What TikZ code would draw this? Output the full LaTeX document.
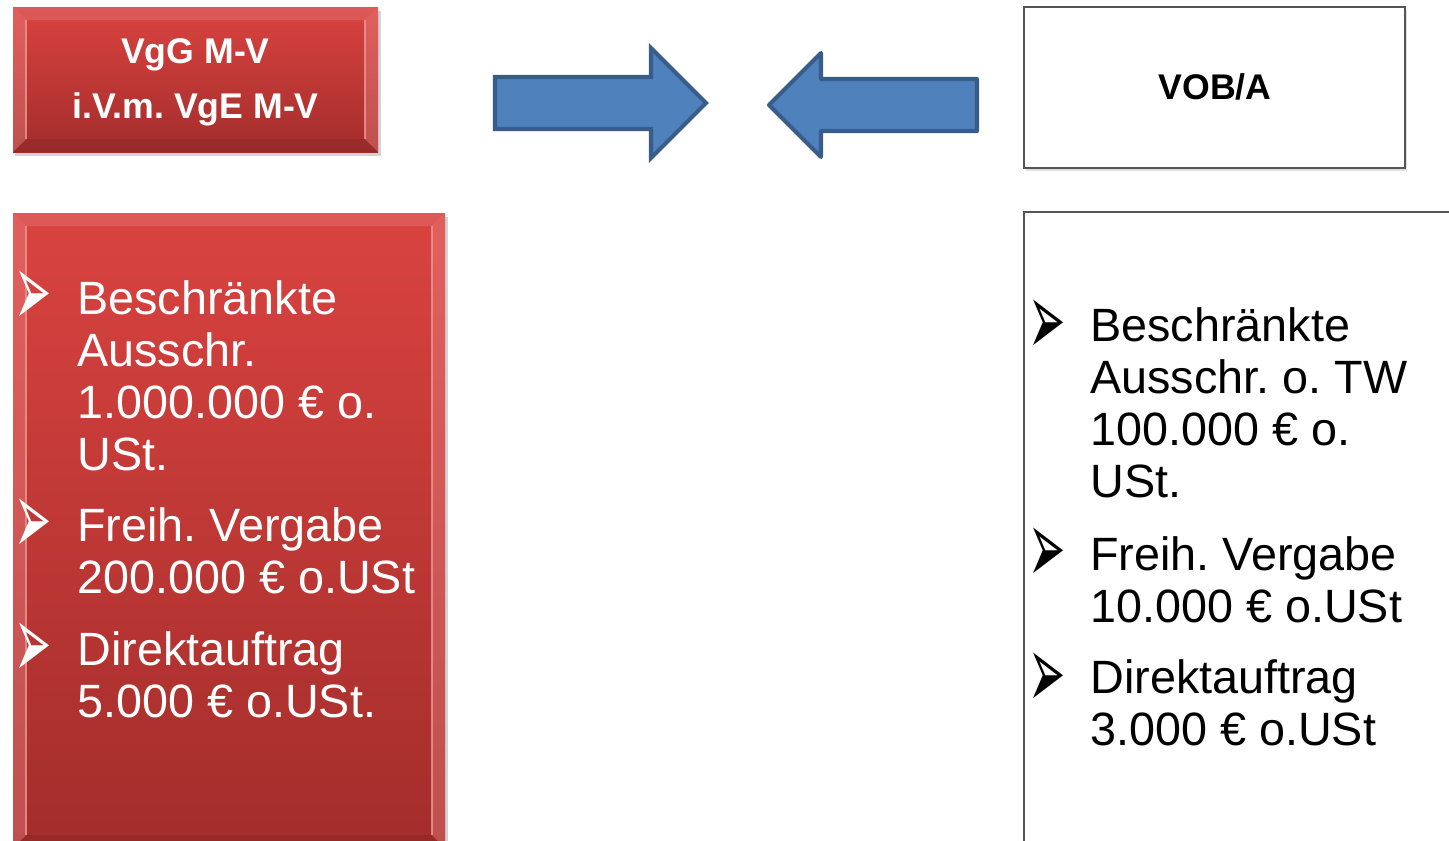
\documentclass[tikz,border=0pt]{standalone}
\usepackage{fontspec}
\usepackage{graphicx}
\setmainfont{Liberation Sans}
\newfontfamily\dejavu{DejaVu Sans}
\usetikzlibrary{shadows}

\definecolor{redtop}{RGB}{217,67,64}
\definecolor{redbot}{RGB}{163,45,43}
\definecolor{arrowfill}{HTML}{4F81BD}
\definecolor{arrowline}{HTML}{385D8A}
\definecolor{framegray}{RGB}{85,85,85}
\definecolor{bevelpink}{RGB}{240,150,148}

\tikzset{
	redbox/.style={top color=redtop, bottom color=redbot,
		drop shadow={shadow xshift=0.05cm, shadow yshift=-0.08cm, opacity=0.35}},
	whitebox/.style={fill=white, draw=framegray, line width=1.3pt,
		drop shadow={shadow xshift=0.04cm, shadow yshift=-0.06cm, opacity=0.25}},
	bevellight/.style={bevelpink, opacity=0.35},
	blockarrow/.style={fill=arrowfill, draw=arrowline, line width=2.3pt},
	title/.style={font=\frenchspacing\fontsize{20.3}{31.2}\selectfont\bfseries, align=center, anchor=base, inner sep=0pt},
	item/.style={font=\frenchspacing\fontsize{26.6}{29.5}\selectfont, align=left, anchor=base west, inner sep=0pt},
	bullet/.style={font=\dejavu\fontsize{22}{22}\selectfont, anchor=center, inner sep=0pt}
}

\begin{document}
\begin{tikzpicture}[x=0.02cm, y=-0.02cm]
	\path[use as bounding box] (0,0) rectangle (1449,840);
	\clip (0,0) rectangle (1449,840);

	% red boxes (VgG M-V)
	\path[redbox] (13,7) rectangle (378,152);
	\fill[white, opacity=0.12] (13,7) -- (378,7) -- (365,20) -- (26,20) -- cycle;
	\fill[bevellight] (13,7) -- (26,20) -- (26,139) -- (13,152) -- cycle;
	\fill[bevellight] (378,7) -- (365,20) -- (365,139) -- (378,152) -- cycle;
	\fill[black, opacity=0.08] (13,152) -- (26,139) -- (365,139) -- (378,152) -- cycle;
	\draw[bevelpink, opacity=0.8, line width=1pt] (26,20) -- (26,139) (365,20) -- (365,139);

	\path[redbox] (13,213) rectangle (445,848);
	\fill[white, opacity=0.12] (13,213) -- (445,213) -- (432,226) -- (26,226) -- cycle;
	\fill[bevellight] (13,213) -- (26,226) -- (26,835) -- (13,848) -- cycle;
	\fill[bevellight] (445,213) -- (432,226) -- (432,835) -- (445,848) -- cycle;
	\fill[black, opacity=0.08] (13,848) -- (26,835) -- (432,835) -- (445,848) -- cycle;
	\draw[bevelpink, opacity=0.8, line width=1pt] (26,226) -- (26,835) (432,226) -- (432,835);

	% white boxes (VOB/A)
	\path[whitebox] (1024,7) rectangle (1405,168);
	\path[whitebox] (1024,212) rectangle (1475,870);

	% block arrows
	\draw[blockarrow] (495,77) -- (651,77) -- (651,48) -- (706,103) -- (651,158)
		-- (651,129) -- (495,129) -- cycle;
	\draw[blockarrow, line join=round] (977,79) -- (821,79) -- (821,53) -- (769,105)
		-- (821,157) -- (821,131) -- (977,131) -- cycle;

	% titles
	\node[title, white] (vgg) at (195.5,118) {VgG M-V\\i.V.m. VgE M-V};
	\node[title] (vob) at (1215,99) {VOB/A};

	% left list
	\node[bullet, white] (b1) at (33,299) {\scalebox{1.15}[2.7]{➢}};
	\node[item, white] (vggbesch) at (77,470) {Beschränkte\\Ausschr.\\1.000.000 € o.\\USt.};
	\node[bullet, white] (b2) at (33,527) {\scalebox{1.15}[2.7]{➢}};
	\node[item, white] (vggfreih) at (77,593) {Freih. Vergabe\\200.000 € o.USt};
	\node[bullet, white] (b3) at (33,651) {\scalebox{1.15}[2.7]{➢}};
	\node[item, white] (vggdirekt) at (77,717) {Direktauftrag\\5.000 € o.USt.};

	% right list
	\node[bullet] (b4) at (1047,328) {\scalebox{1.15}[2.7]{➢}};
	\node[item] (vobbesch) at (1090,497) {Beschränkte\\Ausschr. o. TW\\100.000 € o.\\USt.};
	\node[bullet] (b5) at (1047,556) {\scalebox{1.15}[2.7]{➢}};
	\node[item] (vobfreih) at (1090,622) {Freih. Vergabe\\10.000 € o.USt};
	\node[bullet] (b6) at (1047,681) {\scalebox{1.15}[2.7]{➢}};
	\node[item] (vobdirekt) at (1090,745) {Direktauftrag\\3.000 € o.USt};
\end{tikzpicture}
\end{document}
